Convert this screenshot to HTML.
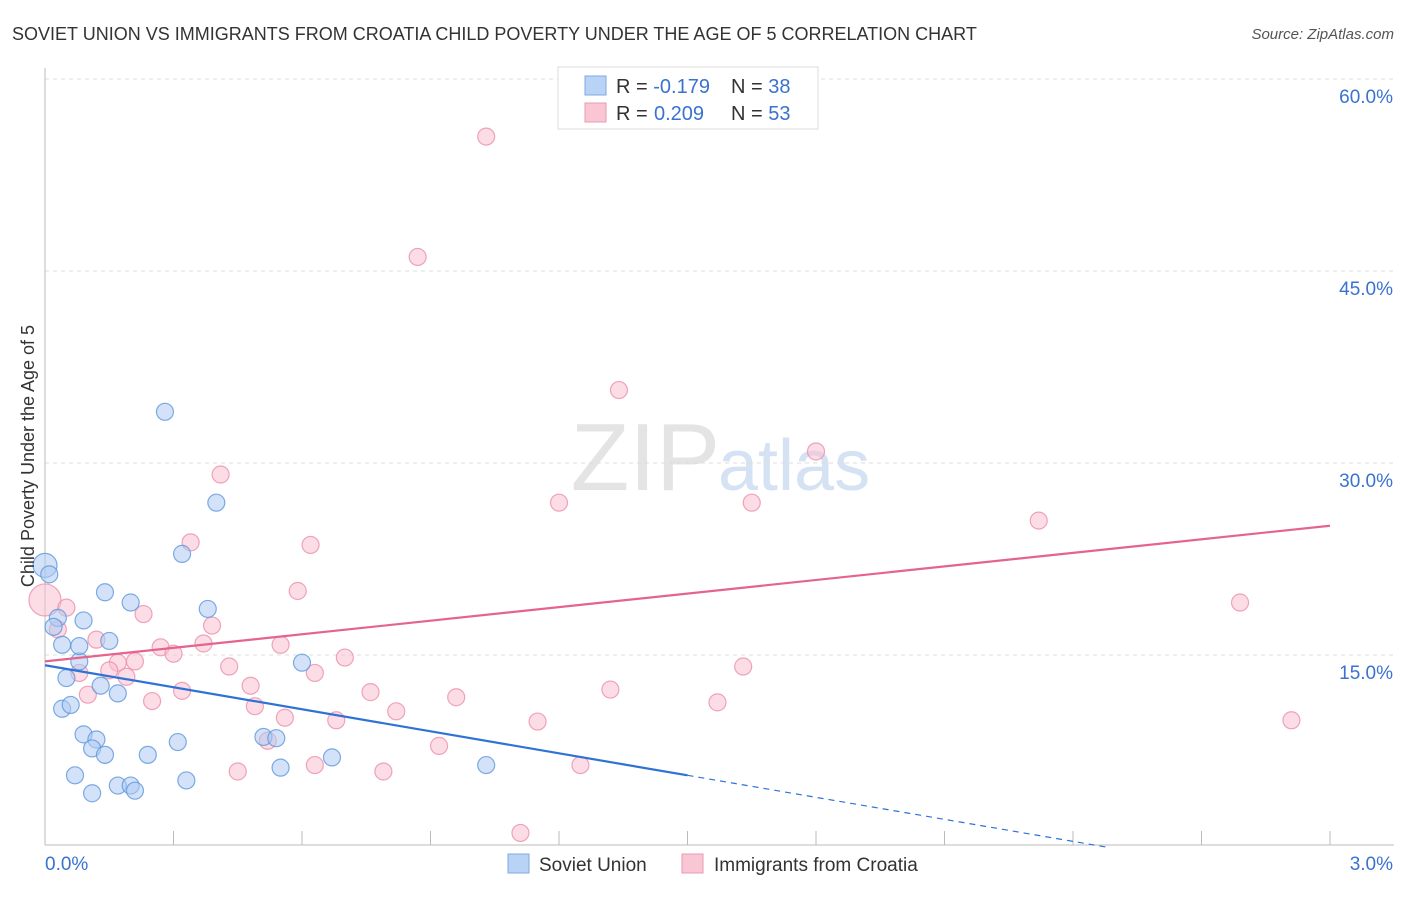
<!DOCTYPE html>
<html><head><meta charset="utf-8"><style>
body{margin:0;background:#fff;font-family:"Liberation Sans",sans-serif}
svg text{font-family:"Liberation Sans",sans-serif}
</style></head><body>
<svg width="1406" height="892" viewBox="0 0 1406 892" xmlns="http://www.w3.org/2000/svg">
<text x="12" y="40" font-size="18" fill="#333">SOVIET UNION VS IMMIGRANTS FROM CROATIA CHILD POVERTY UNDER THE AGE OF 5 CORRELATION CHART</text>
<text x="1394" y="39" font-size="15" fill="#555" font-style="italic" text-anchor="end">Source: ZipAtlas.com</text>
<text x="720" y="490" font-size="96" fill="#e4e4e4" text-anchor="end" font-family="Liberation Serif">ZIP</text>
<text x="718" y="490" font-size="72" fill="#d4e2f4">atlas</text>
<g id="grid"></g>
<g id="axes"></g>
<g id="marks"></g>
<text transform="translate(34,456) rotate(-90)" font-size="18" fill="#333" text-anchor="middle">Child Poverty Under the Age of 5</text>
<g>
<rect x="558" y="67" width="260" height="62" fill="#fff" stroke="#ddd"/>
<rect x="585" y="76" width="21" height="19" fill="#b8d3f5" stroke="#7ea9e0"/>
<rect x="585" y="103" width="21" height="19" fill="#f9c6d4" stroke="#eb99b3"/>
<text x="616" y="93" font-size="20" fill="#333">R = <tspan fill="#3a72d0">-0.179</tspan><tspan x="731">N = </tspan><tspan fill="#3a72d0">38</tspan></text>
<text x="616" y="120" font-size="20" fill="#333">R = <tspan fill="#3a72d0" x="654">0.209</tspan><tspan x="731">N = </tspan><tspan fill="#3a72d0">53</tspan></text>
</g>
<g>
<rect x="508" y="854" width="21" height="19" fill="#b8d3f5" stroke="#7ea9e0"/>
<text x="539" y="871" font-size="19" fill="#333">Soviet Union</text>
<rect x="682" y="854" width="21" height="19" fill="#f9c6d4" stroke="#eb99b3"/>
<text x="714" y="871" font-size="19" fill="#333">Immigrants from Croatia</text>
</g>
</svg>
<script>
const yTicks=[15,30,45,60];
const yTickLabels=["15.0%","30.0%","45.0%","60.0%"];
const xTickLabels=["0.0%","3.0%"];
const blueX=[0.00,0.01,0.03,0.02,0.04,0.08,0.05,0.13,0.17,0.04,0.06,0.09,0.12,0.11,0.14,0.07,0.11,0.17,0.20,0.21,0.14,0.20,0.09,0.15,0.28,0.40,0.32,0.38,0.24,0.31,0.33,0.51,0.54,0.55,0.60,0.67,1.03,0.08];
const blueY=[22.0,21.3,17.9,17.2,15.8,14.5,13.2,12.6,12.0,10.8,11.1,8.8,8.4,7.7,7.2,5.6,4.2,4.8,4.8,4.4,19.9,19.1,17.7,16.1,34.0,26.9,22.9,18.6,7.2,8.2,5.2,8.6,8.5,6.2,14.4,7.0,6.4,15.7];
const pinkX=[1.03,1.55,0.87,1.34,1.80,0.41,1.20,1.65,2.32,0.34,0.62,0.59,2.79,0.00,0.05,0.23,0.39,0.12,0.03,0.27,0.30,0.37,0.55,0.43,0.17,0.21,0.15,0.08,0.19,0.63,0.70,0.10,0.25,0.32,0.48,0.76,0.96,1.32,1.63,1.57,0.49,0.56,0.68,0.82,1.15,2.91,0.92,0.52,0.63,0.45,0.79,1.25,1.11];
const pinkY=[55.5,57.1,46.1,35.7,30.9,29.1,26.9,26.9,25.5,23.8,23.6,20.0,19.1,19.3,18.7,18.2,17.3,16.2,17.0,15.6,15.1,15.9,15.8,14.1,14.4,14.5,13.8,13.6,13.3,13.6,14.8,11.9,11.4,12.2,12.6,12.1,11.7,12.3,14.1,11.3,11.0,10.1,9.9,10.6,9.8,9.9,7.9,8.3,6.4,5.9,5.9,6.4,1.1];
const blueTrend=[14.2,5.6];
const pinkTrend=[14.5,25.1];
const NS="http://www.w3.org/2000/svg";
function X(v){return 45+v*428.33;}
function Y(v){return 847-v*12.8;}
function mk(tag,attrs,parent){const e=document.createElementNS(NS,tag);for(const k in attrs)e.setAttribute(k,attrs[k]);parent.appendChild(e);return e;}
const grid=document.getElementById('grid'),axes=document.getElementById('axes'),marks=document.getElementById('marks');
yTicks.forEach((t,i)=>{
 const l=mk('line',{x1:45,x2:1394,y1:Y(t),y2:Y(t),stroke:'#ddd','stroke-dasharray':'4,4'},grid);
 
 
 const tx=mk('text',{x:1393,y:Y(t)+24,'font-size':19,fill:'#3a72d0','text-anchor':'end'},axes);
 tx.textContent=yTickLabels[i];
 
 
});
const yl=mk('line',{x1:45,x2:45,y1:68,y2:845,stroke:'#bbb'},axes);


const xl=mk('line',{x1:45,x2:1394,y1:845,y2:845,stroke:'#bbb'},axes);


for(let i=0;i<=10;i++){
 const t=mk('line',{x1:X(i*0.3),x2:X(i*0.3),y1:831,y2:845,stroke:'#bbb'},axes);
 
 
}
[[0,45,'start'],[1,1393,'end']].forEach(([i,x,a])=>{
 const tx=mk('text',{x:x,y:870,'font-size':19,fill:'#3a72d0','text-anchor':a},axes);
 tx.textContent=xTickLabels[i];
 
 
});
pinkX.forEach((x,i)=>{
 const c=mk('circle',{cx:X(x),cy:Y(pinkY[i]),r:(x<0.02?16:8.5),fill:'#f9c0d0','fill-opacity':0.55,stroke:'#eb8fae','stroke-opacity':0.8,'stroke-width':1.2},marks);
 
 
});
blueX.forEach((x,i)=>{
 const c=mk('circle',{cx:X(x),cy:Y(blueY[i]),r:(x<0.005?12:8.5),fill:'#aecbf2','fill-opacity':0.55,stroke:'#5f97dc','stroke-opacity':0.8,'stroke-width':1.2},marks);
 
 
});
const slope=(blueTrend[1]-blueTrend[0])/1.5;
const bl=mk('line',{x1:X(0),y1:Y(blueTrend[0]),x2:X(1.5),y2:Y(blueTrend[1]),stroke:'#2f72d6','stroke-width':2.2},marks);


const xEnd=-blueTrend[0]/slope;
const bd=mk('line',{x1:X(1.5),y1:Y(blueTrend[1]),x2:X(xEnd),y2:Y(0),stroke:'#2f72d6','stroke-width':1.2,'stroke-dasharray':'6,5'},marks);


const pl=mk('line',{x1:X(0),y1:Y(pinkTrend[0]),x2:X(3.0),y2:Y(pinkTrend[1]),stroke:'#e4648f','stroke-width':2.2},marks);


</script>
</body></html>
